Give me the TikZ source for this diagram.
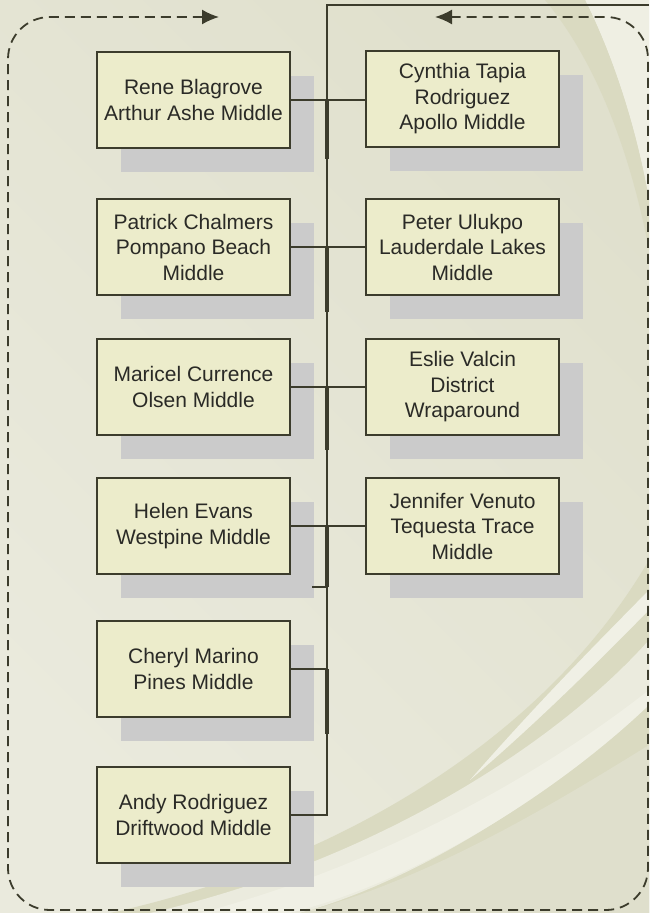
\documentclass[tikz,border=0pt]{standalone}
\usepackage{fontspec}
\setmainfont{Liberation Sans}
\usetikzlibrary{arrows.meta,shadows,calc}
\definecolor{bgA}{HTML}{EAEADD}
\definecolor{bgB}{HTML}{E0E0CD}
\definecolor{swdark}{HTML}{DADAC1}
\definecolor{swlight}{HTML}{F0F0E5}
\definecolor{boxfill}{HTML}{ECECCB}
\definecolor{lineclr}{HTML}{3C3C2C}
\definecolor{shadowclr}{HTML}{CBCBCB}
\definecolor{txt}{HTML}{2A2A26}
\tikzset{
  orgbox/.style={draw=lineclr, fill=boxfill, line width=1.6pt,
    minimum width=193pt, minimum height=96pt, inner sep=0pt, align=center,
    text=txt, font=\fontsize{21}{25.5}\selectfont,
    general shadow={fill=shadowclr, shadow xshift=24pt, shadow yshift=-24pt}},
  conn/.style={draw=lineclr, line width=1.6pt},
  thickconn/.style={draw=lineclr, line width=3.6pt},
  frame/.style={draw=lineclr, line width=1.8pt, dash pattern=on 10pt off 6pt,
    rounded corners=42pt},
}
\begin{document}
\begin{tikzpicture}[x=1pt,y=-1pt]
\useasboundingbox (0,0) rectangle (649,913);
% background
\shade[left color=bgA, right color=bgB, shading angle=135] (0,0) rectangle (649,913);
\fill[swdark] (110,913) .. controls (350,860) and (550,730) .. (649,560) -- (649,913) -- cycle;
\fill[swlight!70!bgB] (150,913) .. controls (380,860) and (560,740) .. (649,640) -- (649,700) .. controls (560,790) and (420,880) .. (300,913) -- cycle;
\fill[swlight] (200,913) .. controls (400,860) and (560,760) .. (649,690) -- (649,705) .. controls (560,790) and (420,880) .. (290,913) -- cycle;
\fill[bgB!90!swdark] (300,913) .. controls (430,880) and (560,800) .. (649,745) -- (649,913) -- cycle;
\fill[swlight] (470,780) .. controls (540,720) and (600,660) .. (649,610) -- (649,590) .. controls (600,640) and (540,700) .. (470,780) -- cycle;
\fill[swlight!80!bgA] (585,0) .. controls (610,50) and (635,120) .. (649,200) -- (649,0) -- cycle;
\fill[swdark] (545,0) .. controls (595,60) and (630,150) .. (649,250) -- (649,200) .. controls (635,120) and (610,50) .. (585,0) -- cycle;

% nodes
\node[orgbox] (l1) at (193.5,100) {Rene Blagrove\\Arthur Ashe Middle};
\node[orgbox] (l2) at (193.5,247) {Patrick Chalmers\\Pompano Beach\\Middle};
\node[orgbox] (l3) at (193.5,387) {Maricel Currence\\Olsen Middle};
\node[orgbox] (l4) at (193.5,526) {Helen Evans\\Westpine Middle};
\node[orgbox] (l5) at (193.5,669) {Cheryl Marino\\Pines Middle};
\node[orgbox] (l6) at (193.5,815) {Andy Rodriguez\\Driftwood Middle};
\node[orgbox] (r1) at (462.5,99) {Cynthia Tapia\\Rodriguez\\Apollo Middle};
\node[orgbox] (r2) at (462.5,247) {Peter Ulukpo\\Lauderdale Lakes\\Middle};
\node[orgbox] (r3) at (462.5,387) {Eslie Valcin\\District\\Wraparound};
\node[orgbox] (r4) at (462.5,526) {Jennifer Venuto\\Tequesta Trace\\Middle};

% spine
\coordinate (spinetop) at (327,5);
\coordinate (topend) at (649,5);
\coordinate (stub) at (312,587);
\draw[conn] (topend) -- (spinetop) -- (spinetop |- l6.east) -- (l6.east);
% horizontal connectors
\draw[conn] (l1.east) -- (l1.east -| r1.west);
\draw[conn] (l2.east) -- (r2.west);
\draw[conn] (l3.east) -- (r3.west);
\draw[conn] (l4.east) -- (r4.west);
\draw[conn] (l5.east) -- (l5.east -| spinetop);
% thick segments
\draw[thickconn] (l1.east -| spinetop) -- ++(0,59);
\draw[thickconn] (l2.east -| spinetop) -- ++(0,65);
\draw[thickconn] (l3.east -| spinetop) -- ++(0,63);
\draw[thickconn] (l4.east -| spinetop) -- (stub -| spinetop);
\draw[conn] (stub) -- (stub -| spinetop);
\draw[thickconn] (l5.east -| spinetop) -- ++(0,65);

% dashed frame
\coordinate (fa) at (219,17);
\coordinate (fb) at (435,17);
\draw[frame, {Latex[length=17pt,width=15pt]}-{Latex[length=17pt,width=15pt]}]
  (fa) -- (8,17) -- (8,910) -- (648,910) -- (648,17) -- (fb);
\end{tikzpicture}
\end{document}
